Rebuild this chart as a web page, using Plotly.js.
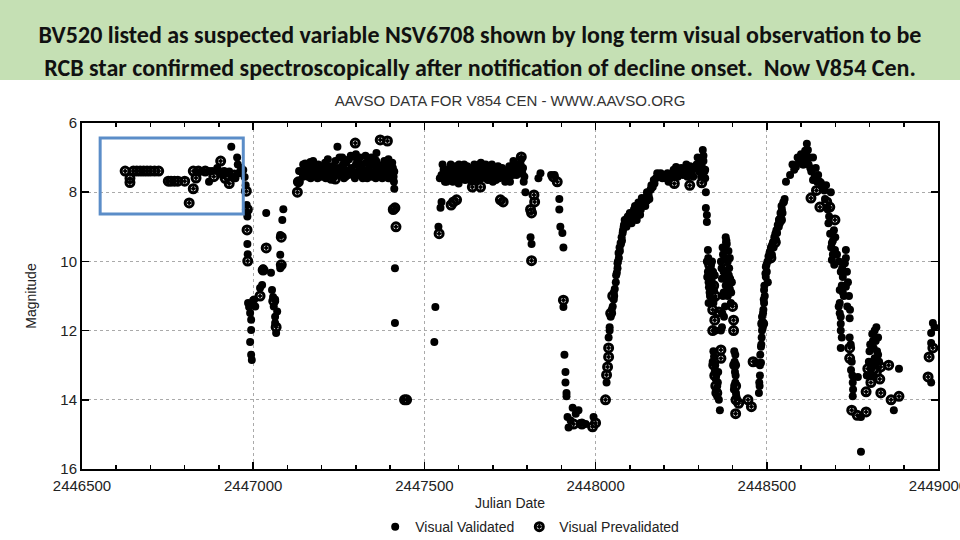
<!DOCTYPE html>
<html>
<head>
<meta charset="utf-8">
<script src="https://cdn.plot.ly/plotly-3.0.1.min.js"></script>
<style>
  html, body { margin: 0; padding: 0; width: 960px; height: 540px; overflow: hidden; background: #fff; }
  #header { position: absolute; left: 0; top: 0; width: 960px; height: 80px; background: #C5E0B4;
            font-family: "Carlito", "Liberation Sans Narrow", "DejaVu Sans Condensed", "Noto Sans", sans-serif;
            font-weight: bold; color: #111; text-align: center; }
  #header div { position: absolute; left: 0; width: 960px; white-space: nowrap; font-size: 24px; line-height: 28px; }
  #chart { position: absolute; left: 0; top: 80px; width: 960px; height: 460px; }
</style>
</head>
<body>
<div id="header">
  <div id="h1" style="top:21px">BV520 listed as suspected variable NSV6708 shown by long term visual observation to be</div>
  <div id="h2" style="top:54px">RCB star confirmed spectroscopically after notification of decline onset.&nbsp; Now V854 Cen.</div>
</div>
<div id="chart"></div>
<script>
// ---- Data: Visual Validated (filled dots) ----
const jdValidated = [
  2446850,2446870,2446871,2446880,2446895,2446900,2446910,2446915,2446922,2446930,2446936,2446940,2446948,2446953,2446955,2446958,2446962,2446965,
  2446971,2446975,2446978,2446981,2446982,2446983,2446983,2446984,
  2446985,2446988,2446991,2446994,2446994,2446991,2446994,2446996,2447000,2447006,2447003,2447020,2447026,2447026,2447029,2447038,
  2447052,2447055,2447058,2447064,2447060,2447064,2447064,2447067,2447070,2447079,2447079,2447079,2447085,2447088,2447082,
  2447129,2447134,2447140,2447146,2447152,2447167,
  2447150,2447158,2447165,2447172,2447178,2447185,2447190,2447197,2447203,2447210,2447215,2447222,2447228,2447235,2447240,2447248,
  2447255,2447262,2447268,2447275,2447280,2447287,2447293,2447300,2447306,2447312,2447318,2447325,2447330,2447337,2447343,2447350,
  2447356,2447362,2447368,2447374,2447380,2447386,2447392,2447398,2447404,2447408,2447412,2447160,2447200,2447270,2447320,2447365,2447395,
  2447145,2447155,2447168,2447175,2447182,2447188,2447195,2447205,2447212,2447218,2447225,2447232,2447238,2447245,2447252,2447258,
  2447265,2447272,2447278,2447285,2447290,2447297,2447303,2447310,2447315,2447322,2447328,2447333,2447340,2447347,2447353,2447358,
  2447364,2447370,2447377,2447383,2447389,2447394,2447400,2447406,2447410,
  2447246,2447260,2447300,2447360,2447345,2447395,
  2447409,2447411,2447412,2447414,2447414,
  2447529,2447532,2447541,2447547,2447550,
  2447550,2447556,2447562,2447568,2447574,2447580,2447586,2447592,2447598,2447604,2447610,2447616,2447622,2447628,2447634,2447640,
  2447646,2447652,2447658,2447665,2447670,2447676,2447682,2447688,2447694,2447700,2447706,2447712,2447718,2447724,2447730,2447736,
  2447742,2447748,2447754,2447760,2447766,2447772,2447778,2447783,2447788,2447792,2447560,2447600,2447700,2447750,
  2447545,2447553,2447559,2447565,2447571,2447577,2447583,2447589,2447595,2447601,2447607,2447613,2447619,2447625,2447631,2447637,
  2447643,2447649,2447655,2447661,2447667,2447673,2447679,2447685,2447691,2447697,2447703,2447709,2447715,2447721,2447727,2447733,
  2447739,2447745,2447751,2447757,2447763,2447769,2447775,2447781,2447786,2447790,
  2447795,2447810,2447813,2447839,2447833,2447870,2447880,
  2447894,2447894,2447897,2447903,2447906,2447906,2447909,2447912,2447912,2447915,2447915,
  2447918,2447921,2447933,2447942,2447956,2447971,2447994,2447927,2447950,
  2448032,2448038,2448041,2448044,2448050,2448053,2448053,2448059,2448062,2448064,2448067,2448073,2448079,2448082,2448094,2448111,2448132,2448150,
  2448041,2448047,2448056,2448064,2448070,2448076,2448085,2448090,2448100,2448105,2448115,2448120,2448125,2448140,2448145,2448155,2448160,
  2448163,2448170,2448180,2448150,2448135,2448120,2448100,2448085,
  2448060,2448065,2448068,2448071,2448074,2448077,2448080,2448083,2448088,2448092,2448096,2448103,2448108,2448112,2448118,2448122,
  2448128,2448130,2448137,2448142,2448147,2448152,2448157,2448162,2448167,2448172,2448176,2448185,2448190,2448195,2448200,
  2448205,2448213,2448225,2448235,2448245,2448255,2448265,2448272,2448280,2448290,2448298,2448305,2448310,2448313,2448318,2448320,
  2448210,2448218,2448228,2448240,2448250,2448260,2448268,2448276,2448285,2448295,2448302,2448308,2448315,2448320,2448315,
  2448322,2448322,2448325,2448325,2448328,
  2448325,2448328,2448330,2448333,2448336,2448339,2448342,2448345,2448330,2448340,2448348,
  2448326,2448329,2448331,2448334,2448337,2448340,2448343,2448346,2448332,2448344,
  2448366,2448350,2448342,2448348,2448357,2448360,2448363,2448351,
  2448344,2448346,2448349,2448352,2448355,2448358,
  2448366,2448369,2448372,2448378,2448380,2448383,2448386,2448389,2448392,2448395,2448372,2448380,2448392,2448398,2448375,2448369,
  2448368,2448371,2448374,2448377,2448379,2448382,2448385,2448388,2448390,2448393,2448396,2448374,2448386,2448378,2448370,2448381,
  2448405,2448406,2448407,2448408,2448410,2448470,
  2448405,2448408,2448409,2448411,2448404,
  2448477,2448483,2448483,2448486,2448486,2448492,2448492,2448497,2448497,2448506,2448515,2448515,2448527,2448530,2448535,2448541,2448544,2448550,2448556,2448568,
  2448480,2448485,2448488,2448490,2448494,2448500,2448503,2448510,2448520,2448525,2448538,2448546,2448480,2448478,
  2448479,2448481,2448484,2448487,2448489,2448491,2448493,2448496,2448499,2448502,2448505,2448508,2448512,2448518,2448522,2448528,
  2448532,2448536,2448540,2448543,2448548,2448552,
  2448585,2448594,2448605,2448617,2448620,2448635,2448643,2448635,2448658,2448673,2448687,2448682,2448696,2448690,2448699,2448690,
  2448731,2448728,2448722,2448731,2448713,2448713,2448716,2448716,2448742,2448742,2448716,2448746,2448751,2448751,2448766,2448775,2448775,
  2448625,2448610,2448650,2448665,2448700,2448705,2448720,2448725,2448735,2448600,2448590,2448575,
  2448580,2448597,2448603,2448608,2448612,2448615,2448618,2448622,2448627,2448630,2448640,2448647,2448655,2448662,2448668,2448670,
  2448678,2448680,2448685,2448688,2448693,2448697,
  2448690,2448693,2448696,2448711,2448716,2448719,2448722,2448710,2448713,2448716,2448719,2448731,2448734,2448737,2448740,2448743,
  2448745,2448748,2448750,2448752,
  2448800,2448810,2448815,2448820,2448825,2448815,2448805,2448825,2448810,2448871,2448886,
  2448792,2448798,2448802,2448808,2448812,2448818,2448822,2448828,2448812,2448818,
  2448985,2448980,2448980,2448980,2448990
];
const magValidated = [
  7.39,7.39,7.7,7.39,7.3,7.39,7.5,7.39,7.45,7.4,6.69,7.55,7.6,7.0,7.2,7.45,7.4,7.3,
  7.36,7.56,7.8,8.37,8.6,8.7,9.5,9.79,
  11.2,11.32,11.49,11.69,11.98,12.33,12.7,12.85,11.12,11.3,11.1,10.77,10.68,10.25,10.2,8.6,
  10.33,10.83,11.03,11.1,11.3,11.6,11.78,12.07,11.45,9.24,9.81,10.2,8.8,8.49,10.15,
  7.7,7.39,7.4,7.2,7.17,7.13,
  7.4,7.3,7.45,7.25,7.35,7.5,7.2,7.3,7.45,7.15,7.35,7.5,7.25,7.4,7.1,7.3,
  7.5,7.2,7.35,7.45,7.05,7.3,7.5,7.2,7.4,7.0,7.3,7.5,7.15,7.35,7.45,7.2,
  7.4,7.3,7.5,7.25,7.35,7.45,7.2,7.35,7.5,7.3,7.4,7.55,7.55,7.55,7.6,7.55,7.6,
  7.55,7.2,7.6,7.1,7.3,7.6,7.45,7.25,7.6,7.05,7.4,7.6,7.3,7.5,7.0,7.4,
  7.6,7.15,7.5,6.95,7.4,7.6,7.05,7.5,7.2,7.4,6.95,7.6,7.25,7.55,7.1,7.6,
  7.2,7.4,7.6,7.1,7.55,7.3,7.6,7.15,7.55,
  6.69,7.0,6.9,6.87,7.0,7.05,
  7.45,7.7,7.9,10.2,11.78,
  12.33,11.32,9.0,8.45,8.28,
  7.5,7.35,7.6,7.45,7.3,7.55,7.4,7.25,7.5,7.35,7.6,7.2,7.45,7.3,7.55,7.4,
  7.2,7.5,7.35,7.15,7.45,7.3,7.55,7.25,7.4,7.55,7.3,7.45,7.6,7.35,7.5,7.7,
  7.4,7.25,7.5,7.1,7.35,7.2,7.45,7.05,7.3,7.55,7.7,7.75,7.7,7.7,
  7.6,7.2,7.45,7.7,7.5,7.2,7.7,7.5,7.6,7.2,7.5,7.35,7.65,7.25,7.4,7.7,
  7.5,7.3,7.65,7.2,7.6,7.45,7.2,7.65,7.35,7.2,7.45,7.65,7.25,7.45,7.3,7.55,
  7.6,7.45,7.3,7.5,7.2,7.5,7.3,7.2,7.45,7.7,
  8.0,9.3,9.5,7.45,7.6,7.5,7.5,
  8.2,8.5,9.0,9.18,9.6,11.32,12.7,13.2,13.5,13.8,13.9,
  14.5,14.8,14.23,14.4,14.67,14.7,14.5,14.6,14.3,
  13.5,12.2,11.9,11.6,11.3,11.1,10.9,10.6,10.33,10.05,9.76,9.47,9.18,9.0,8.7,8.57,8.5,8.0,
  12.0,11.4,10.8,10.2,9.6,9.3,8.8,9.0,8.6,8.9,8.4,8.7,8.3,8.2,8.4,8.1,7.94,
  7.8,7.65,7.45,8.25,8.17,8.8,8.9,8.9,
  10.4,10.0,9.9,9.7,9.5,9.4,9.1,8.95,8.85,8.75,8.8,8.65,8.7,8.5,8.55,8.45,
  8.4,8.65,8.35,8.3,8.15,8.05,8.2,7.9,7.85,7.75,7.6,7.55,7.45,7.6,7.5,
  7.6,7.7,7.5,7.27,7.4,7.5,7.2,7.35,7.45,7.3,7.0,7.1,7.25,6.78,7.4,7.6,
  7.45,7.55,7.35,7.55,7.3,7.45,7.55,7.25,7.55,7.2,7.4,7.55,7.1,7.35,6.95,
  8.0,8.46,8.66,8.86,9.67,
  10.0,10.3,10.6,10.9,10.2,10.5,10.8,11.1,11.2,10.0,10.4,
  10.45,9.9,10.75,11.0,10.35,10.65,10.3,10.85,10.25,11.2,
  12.0,12.0,12.9,13.2,13.5,14.0,14.3,13.4,
  12.6,12.75,13.0,13.7,13.9,13.2,
  10.0,10.5,9.8,9.6,9.3,9.5,10.0,10.4,10.8,11.2,11.0,10.7,9.9,10.6,11.6,11.9,
  10.2,9.6,10.3,9.9,10.5,9.4,10.6,9.7,10.2,10.5,10.9,10.9,11.0,11.3,11.5,9.45,
  12.6,12.9,13.2,13.5,13.8,12.93,
  13.0,12.7,13.3,13.9,13.7,
  13.8,12.93,12.47,12.0,11.6,11.2,10.83,10.45,10.16,9.96,9.81,9.53,9.38,9.18,9.0,8.75,8.5,8.28,7.7,7.5,
  13.3,12.2,11.9,11.4,11.0,10.3,10.6,9.7,9.6,9.2,8.9,8.6,13.0,13.5,
  13.6,12.7,12.4,11.75,11.5,11.1,10.7,10.35,10.1,10.0,9.85,9.75,9.6,9.45,9.3,9.1,
  8.95,8.8,8.6,8.4,8.3,8.2,
  7.27,7.13,7.2,6.6,6.78,7.0,7.3,7.65,7.73,7.8,8.0,8.7,9.1,9.47,9.67,9.96,
  9.67,10.05,10.45,10.73,10.83,11.2,11.6,12.0,11.64,12.2,12.5,13.14,13.5,13.9,13.34,14.5,15.5,
  7.0,6.95,7.5,7.9,9.3,9.8,10.2,11.0,11.3,6.9,7.0,7.2,
  7.35,7.05,7.0,7.2,6.8,6.9,7.05,7.2,7.3,7.4,7.55,7.7,7.7,7.85,7.95,8.2,
  8.5,8.9,9.2,9.6,9.8,10.1,
  9.2,9.4,9.8,10.0,10.3,10.7,10.9,11.3,11.5,11.8,12.2,9.9,10.3,10.6,11.0,11.4,
  12.4,12.9,13.3,13.7,
  12.6,12.3,12.0,11.9,12.2,12.8,13.1,12.7,13.3,14.3,13.1,
  13.3,12.9,12.4,12.1,12.5,12.3,12.6,12.9,12.9,13.0,
  11.78,12.07,12.36,13.5,11.9
];

// ---- Data: Visual Prevalidated (ringed dots) ----
const jdPrevalidated = [
  2446626,2446640,2446640,2446650,2446660,2446670,2446680,2446690,2446700,2446712,2446724,
  2446752,2446760,2446770,2446780,2446800,2446813,2446825,2446825,2446833,2446840,2446860,2446885,2446905,2446918,2446930,2446945,
  2446980,2446982,2446984,2446983,
  2447029,2447038,2447082,2447082,2447067,2447060,2447020,
  2447129,2447132,2447298,2447371,2447392,2447228,2447240,2447355,2447400,
  2447409,2447414,2447417,2447442,2447448,
  2447543,2447578,2447585,2447594,
  2447640,2447664,2447722,2447730,2447783,2447600,2447690,
  2447810,2447813,2447813,2447820,2447822,2447877,2447888,
  2447906,2447936,2447991,2448000,2447960,
  2448029,2448032,2448035,2448038,2448038,2448044,2448050,
  2448275,2448310,2448230,
  2448333,2448345,2448350,2448342,2448348,2448342,2448360,
  2448366,2448366,2448345,2448348,2448351,2448354,
  2448400,2448403,2448403,2448383,
  2448406,2448409,2448410,2448409,2448418,2448445,2448455,2448460,
  2448488,2448512,2448525,2448540,
  2448629,2448655,2448675,2448684,2448699,2448742,2448742,2448748,2448764,2448790,2448790,2448804,2448833,2448856,2448833,2448863,2448886,2448645,
  2448795,2448820,2448830,
  2448974,2448971,2448985
];
const magPrevalidated = [
  7.39,7.6,7.72,7.39,7.39,7.39,7.39,7.39,7.39,7.39,7.39,
  7.68,7.68,7.68,7.68,7.68,8.31,7.9,7.39,7.59,7.39,7.39,7.55,7.1,7.6,7.75,7.5,
  7.97,9.09,9.99,8.5,
  10.25,9.61,9.3,10.1,11.9,11.15,11.0,
  8.0,7.7,6.58,6.49,6.52,7.6,7.62,7.1,7.4,
  8.5,8.45,9.0,14.0,14.0,
  9.2,8.37,8.28,8.22,
  7.85,7.85,8.22,8.28,6.98,7.3,7.6,
  8.5,8.6,9.98,8.08,8.28,7.56,7.7,
  11.12,14.7,14.78,14.67,14.7,
  14.0,13.28,13.05,12.76,12.5,11.5,11.0,
  7.8,7.73,7.75,
  10.1,10.7,11.0,11.4,11.7,12.0,11.46,
  12.56,12.8,13.0,13.3,13.6,13.8,
  11.3,11.7,12.0,10.2,
  13.0,13.6,14.0,14.4,14.1,14.0,14.2,12.9,
  11.8,9.9,9.45,8.8,
  8.17,8.43,8.28,8.43,8.8,12.5,12.8,14.3,14.45,14.35,13.77,13.5,13.05,13.0,13.8,14.0,13.9,7.95,
  13.1,13.2,13.4,
  12.76,13.34,12.5
];

// ---- Axis ticks ----
const xTickVals = [2446500, 2447000, 2447500, 2448000, 2448500, 2449000];
const xTickText = ["2446500", "2447000", "2447500", "2448000", "2448500", "2449000"];
const yTickVals = [6, 8, 10, 12, 14, 16];

// ---- Highlight box (annotation drawn on the slide) ----
const boxJD = [2446553, 2446971];
const boxMag = [6.43, 8.63];

const fontFam = "Liberation Sans, Arial, sans-serif";
const axisFont = {family: fontFam, size: 15, color: "#222"};

const traces = [
  {
    x: jdValidated, y: magValidated, type: "scatter", mode: "markers",
    name: "Visual Validated",
    marker: {color: "#000", size: 8, symbol: "circle"}
  },
  {
    x: jdPrevalidated, y: magPrevalidated, type: "scatter", mode: "markers",
    name: "Visual Prevalidated",
    marker: {color: "#000", size: 8, symbol: "circle-open-dot", line: {width: 3, color: "#000"}}
  }
];

const layout = {
  width: 960, height: 460,
  margin: {l: 82, r: 22, t: 43, b: 71},
  paper_bgcolor: "#fff", plot_bgcolor: "#fff",
  title: {text: "AAVSO DATA FOR V854 CEN - WWW.AAVSO.ORG",
          font: {family: fontFam, size: 15, color: "#333"},
          xref: "paper", x: 0.5, xanchor: "center", y: 0.954, yanchor: "middle"},
  xaxis: {
    range: [2446500, 2449000], tickvals: xTickVals, ticktext: xTickText,
    ticks: "inside", ticklen: 7, tickwidth: 1.5, tickcolor: "#000",
    minor: {dtick: 100, ticks: "inside", ticklen: 4, tickcolor: "#000", showgrid: false},
    showgrid: true, gridcolor: "#aaa", griddash: "dot", gridwidth: 1,
    showline: true, linecolor: "#000", linewidth: 2, mirror: "ticks",
    zeroline: false, tickfont: axisFont, ticklabeloverflow: "allow", ticklabelstandoff: 2,
    automargin: false,
    title: {text: "Julian Date", font: {family: fontFam, size: 14, color: "#222"}, standoff: 8}
  },
  yaxis: {
    range: [16, 6], tickvals: yTickVals,
    ticks: "inside", ticklen: 7, tickwidth: 1.5, tickcolor: "#000",
    showgrid: true, gridcolor: "#aaa", griddash: "dot", gridwidth: 1,
    showline: true, linecolor: "#000", linewidth: 2, mirror: "ticks",
    zeroline: false, tickfont: axisFont, automargin: false,
    title: {text: "Magnitude", font: {family: fontFam, size: 14, color: "#222"}, standoff: 20}
  },
  showlegend: true,
  legend: {orientation: "h", xref: "paper", x: 0.523, xanchor: "center",
           yref: "container", y: 0.028, yanchor: "middle",
           font: {family: fontFam, size: 14, color: "#222"},
           itemwidth: 30, bgcolor: "rgba(0,0,0,0)"},
  shapes: [{
    type: "rect", xref: "x", yref: "y",
    x0: boxJD[0], x1: boxJD[1], y0: boxMag[0], y1: boxMag[1],
    line: {color: "#5B8DC8", width: 3}, fillcolor: "rgba(0,0,0,0)"
  }]
};

Plotly.newPlot("chart", traces, layout, {staticPlot: true, displayModeBar: false});
</script>
</body>
</html>
